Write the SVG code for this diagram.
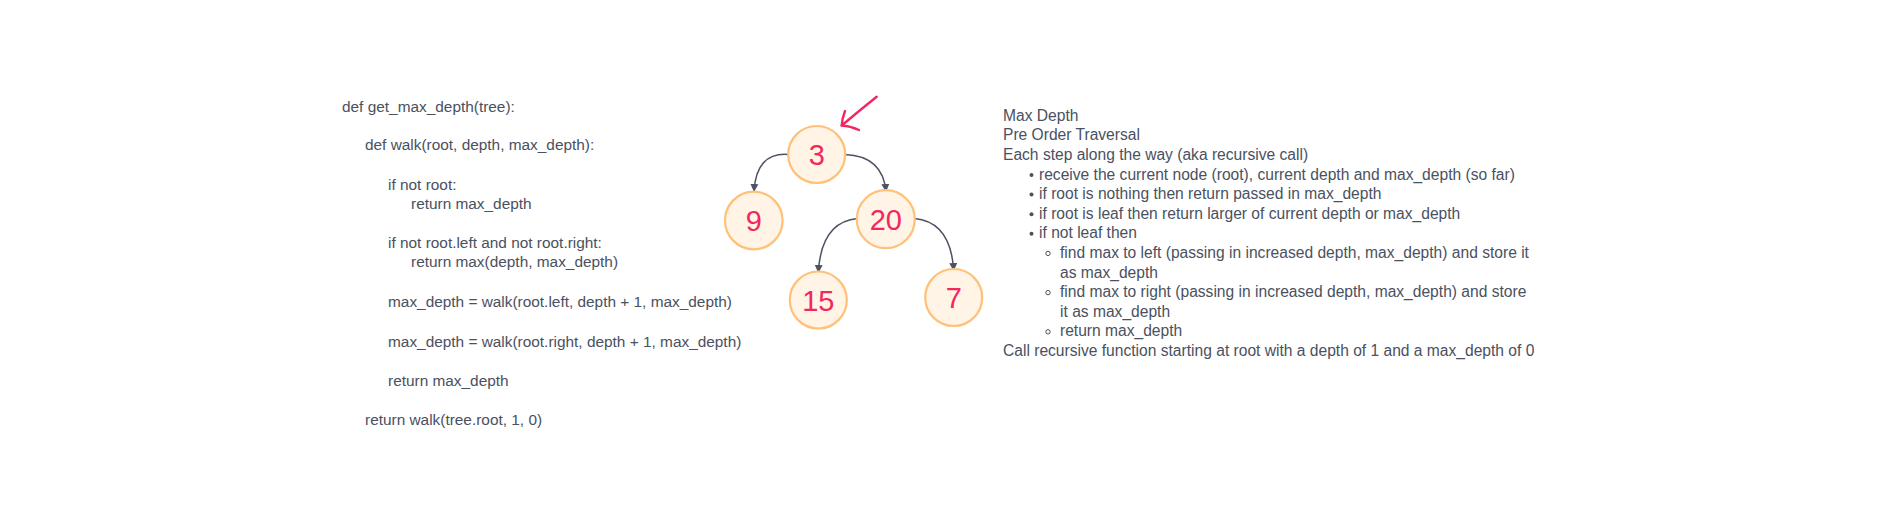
<svg xmlns="http://www.w3.org/2000/svg" width="1881" height="526" viewBox="0 0 1881 526">
  <defs>
    <marker id="ah" viewBox="0 0 10 10" refX="10" refY="5" markerWidth="8" markerHeight="11" markerUnits="userSpaceOnUse" orient="auto">
      <path d="M0,0 L10,5 L0,10 z" fill="#4b5263"/>
    </marker>
    <style>
      .code { font-family: "Liberation Sans", Arial, sans-serif; font-size: 15.4px; fill: #4a5160; }
      .txt { font-family: "Liberation Sans", Arial, sans-serif; font-size: 15.6px; fill: #4a5160; }
      .node circle { fill: #fff4e6; stroke: #ffc078; stroke-width: 2.2; }
      .node text { font-family: "Liberation Sans", Arial, sans-serif; font-size: 29px; fill: #f2275e; text-anchor: middle; }
      .edge { fill: none; stroke: #4b5263; stroke-width: 1.5; marker-end: url(#ah); }
      .dot { fill: #4a5160; }
      .ring { fill: none; stroke: #4a5160; stroke-width: 1; }
    </style>
  </defs>
  <rect width="1881" height="526" fill="#ffffff"/>

  <g id="code">
    <text class="code" x="342" y="112">def get_max_depth(tree):</text>
    <text class="code" x="365" y="150">def walk(root, depth, max_depth):</text>
    <text class="code" x="388" y="190">if not root:</text>
    <text class="code" x="411" y="209">return max_depth</text>
    <text class="code" x="388" y="248">if not root.left and not root.right:</text>
    <text class="code" x="411" y="267">return max(depth, max_depth)</text>
    <text class="code" x="388" y="307">max_depth = walk(root.left, depth + 1, max_depth)</text>
    <text class="code" x="388" y="347">max_depth = walk(root.right, depth + 1, max_depth)</text>
    <text class="code" x="388" y="386">return max_depth</text>
    <text class="code" x="365" y="425">return walk(tree.root, 1, 0)</text>
  </g>

  <g id="connectors">
    <path class="edge" d="M788.5,154.5 Q756,152 754,192"/>
    <path class="edge" d="M845,154.5 Q883,156 886,192"/>
    <path class="edge" d="M857.5,218.5 Q821,222 818.3,273"/>
    <path class="edge" d="M914.5,218.5 Q951,222 953.7,271"/>
  </g>

  <g id="pointer" fill="none" stroke="#f2275e" stroke-width="2.4" stroke-linecap="round" stroke-linejoin="round">
    <path d="M876.7,96.7 Q860,110 841.7,125.5"/>
    <path d="M845,111 Q842,119 841.7,125.5 Q850,126 859,130"/>
  </g>

  <g id="node-3" class="node">
    <circle cx="816.7" cy="154.5" r="28.5"/>
    <text x="816.7" y="165">3</text>
  </g>
  <g id="node-9" class="node">
    <circle cx="753.8" cy="220.5" r="28.8"/>
    <text x="753.8" y="231">9</text>
  </g>
  <g id="node-20" class="node">
    <circle cx="885.8" cy="219.2" r="29"/>
    <text x="885.8" y="229.5">20</text>
  </g>
  <g id="node-15" class="node">
    <circle cx="818.3" cy="300" r="28.5"/>
    <text x="818.3" y="310.5">15</text>
  </g>
  <g id="node-7" class="node">
    <circle cx="953.7" cy="297.5" r="28.5"/>
    <text x="953.7" y="308">7</text>
  </g>

  <g id="notes">
    <text class="txt" x="1003" y="120.8">Max Depth</text>
    <text class="txt" x="1003" y="140.4">Pre Order Traversal</text>
    <text class="txt" x="1003" y="160">Each step along the way (aka recursive call)</text>
    <circle class="dot" cx="1031.5" cy="175" r="2"/>
    <text class="txt" x="1039" y="179.6">receive the current node (root), current depth and max_depth (so far)</text>
    <circle class="dot" cx="1031.5" cy="194.6" r="2"/>
    <text class="txt" x="1039" y="199.2">if root is nothing then return passed in max_depth</text>
    <circle class="dot" cx="1031.5" cy="214.2" r="2"/>
    <text class="txt" x="1039" y="218.8">if root is leaf then return larger of current depth or max_depth</text>
    <circle class="dot" cx="1031.5" cy="233.8" r="2"/>
    <text class="txt" x="1039" y="238.4">if not leaf then</text>
    <circle class="ring" cx="1048" cy="253.4" r="2.2"/>
    <text class="txt" x="1060" y="258">find max to left (passing in increased depth, max_depth) and store it</text>
    <text class="txt" x="1060" y="277.6">as max_depth</text>
    <circle class="ring" cx="1048" cy="292.6" r="2.2"/>
    <text class="txt" x="1060" y="297.2">find max to right (passing in increased depth, max_depth) and store</text>
    <text class="txt" x="1060" y="316.8">it as max_depth</text>
    <circle class="ring" cx="1048" cy="331.8" r="2.2"/>
    <text class="txt" x="1060" y="336.4">return max_depth</text>
    <text class="txt" x="1003" y="356">Call recursive function starting at root with a depth of 1 and a max_depth of 0</text>
  </g>
</svg>
